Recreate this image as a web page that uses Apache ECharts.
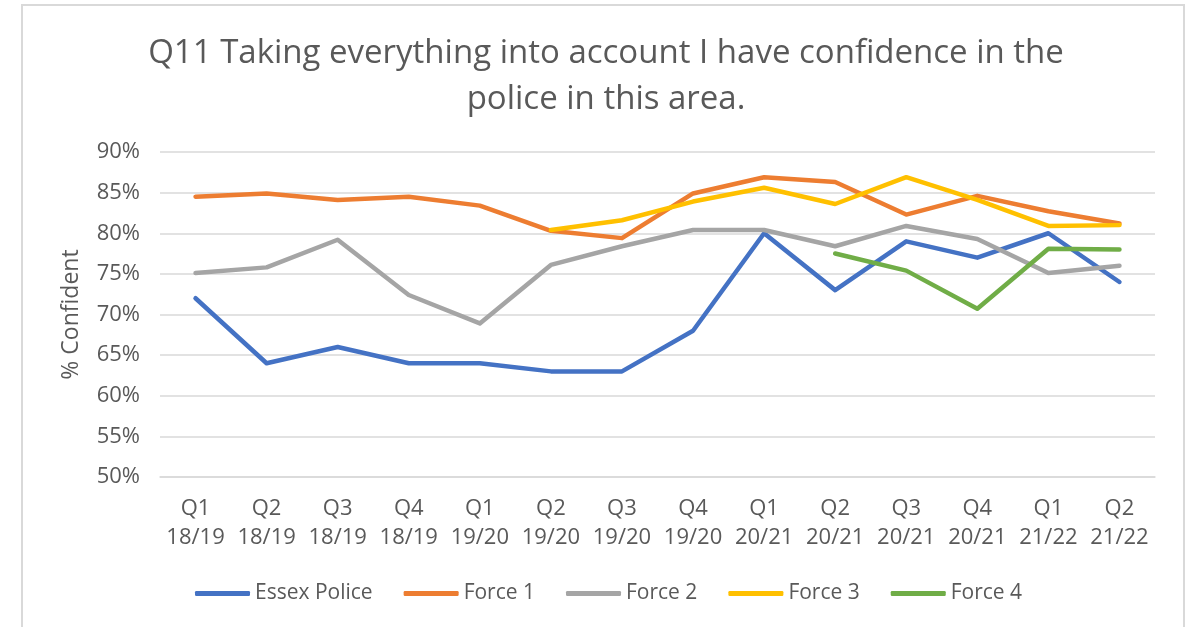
<!DOCTYPE html>
<html>
<head>
<meta charset="utf-8">
<script src="https://cdn.jsdelivr.net/npm/echarts@6/dist/echarts.min.js"></script>
<style>
html,body{margin:0;padding:0;background:#fff;}
#chart{width:1190px;height:627px;}
</style>
</head>
<body>
<div id="chart"></div>
<script>
const categories = ['Q1\n18/19','Q2\n18/19','Q3\n18/19','Q4\n18/19','Q1\n19/20','Q2\n19/20','Q3\n19/20','Q4\n19/20','Q1\n20/21','Q2\n20/21','Q3\n20/21','Q4\n20/21','Q1\n21/22','Q2\n21/22'];
const essexPolice = [72, 64, 66, 64, 64, 63, 63, 68, 80, 73, 79, 77, 80, 74];
const force1 = [84.5, 84.9, 84.1, 84.5, 83.4, 80.3, 79.4, 84.9, 86.9, 86.3, 82.3, 84.6, 82.7, 81.2];
const force2 = [75.1, 75.8, 79.2, 72.4, 68.9, 76.1, 78.4, 80.4, 80.4, 78.4, 80.9, 79.3, 75.1, 76.0];
const force3 = [null, null, null, null, null, 80.4, 81.6, 83.9, 85.6, 83.6, 86.9, 84.1, 80.9, 81.0];
const force4 = [null, null, null, null, null, null, null, null, null, 77.5, 75.4, 70.7, 78.1, 78.0];
const seriesNames = ['Essex Police', 'Force 1', 'Force 2', 'Force 3', 'Force 4'];
const seriesColors = ['#4472C4', '#ED7D31', '#A5A5A5', '#FFC000', '#70AD47'];
const seriesData = [essexPolice, force1, force2, force3, force4];

const txt = '#595959';
const chart = echarts.init(document.getElementById('chart'));
chart.setOption({
  animation: false,
  backgroundColor: '#fff',
  graphic: [{
    type: 'rect',
    shape: {x: 22, y: 5, width: 1162, height: 640},
    style: {fill: 'none', stroke: '#d9d9d9', lineWidth: 2},
    silent: true
  }],
  title: {
    text: 'Q11 Taking everything into account I have confidence in the\npolice in this area.',
    left: 601,
    top: 26,
    textAlign: 'center',
    textStyle: {
      fontFamily: 'Open Sans',
      fontSize: 33,
      fontWeight: 'normal',
      color: txt,
      lineHeight: 46
    }
  },
  legend: {
    data: seriesNames,
    left: 190,
    top: 578,
    icon: 'roundRect',
    itemWidth: 55,
    itemHeight: 5,
    itemGap: 31,
    textStyle: {fontFamily: 'Open Sans', fontSize: 21, color: txt}
  },
  grid: {left: 160, right: 35, top: 152, bottom: 150},
  xAxis: {
    type: 'category',
    data: categories,
    boundaryGap: true,
    axisLine: {show: true, lineStyle: {color: '#d9d9d9', width: 1.5}},
    axisTick: {show: false},
    axisLabel: {
      interval: 0,
      margin: 17,
      fontFamily: 'Open Sans',
      fontSize: 22,
      lineHeight: 29,
      color: txt
    }
  },
  yAxis: {
    type: 'value',
    min: 50,
    max: 90,
    interval: 5,
    name: '% Confident',
    nameLocation: 'middle',
    nameGap: 77,
    nameTextStyle: {fontFamily: 'Open Sans', fontSize: 23, color: txt},
    axisLine: {show: false},
    axisTick: {show: false},
    splitLine: {lineStyle: {color: '#d9d9d9', width: 1.5}},
    axisLabel: {
      formatter: '{value}%',
      margin: 20,
      fontFamily: 'Open Sans',
      fontSize: 22,
      color: txt
    }
  },
  series: seriesNames.map((n, i) => ({
    name: n,
    type: 'line',
    data: seriesData[i],
    showSymbol: false,
    symbol: 'none',
    color: seriesColors[i],
    lineStyle: {width: 4.5, color: seriesColors[i], cap: 'round', join: 'round'}
  }))
});
</script>
</body>
</html>
